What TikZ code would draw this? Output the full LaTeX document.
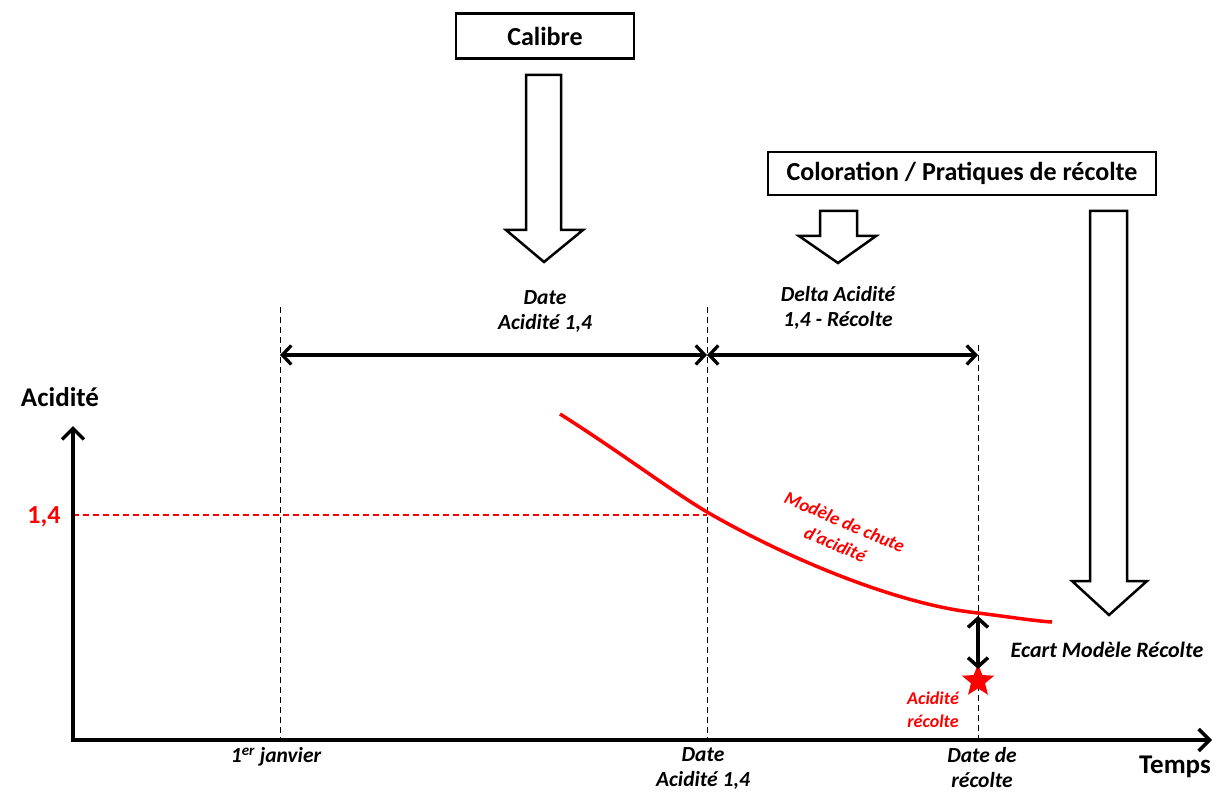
\documentclass[tikz,border=0pt]{standalone}
\usepackage{fontspec}
\setmainfont{Carlito}
\usetikzlibrary{arrows.meta,shapes.geometric}
\definecolor{rd}{RGB}{255,0,0}
\tikzset{
  boxlbl/.style={draw=black,line width=2.5pt,minimum height=45pt,inner sep=0pt,font=\fontsize{26}{30}\selectfont\bfseries},
  blockarrow/.style={draw=black,line width=2.5pt,fill=white,line join=miter},
  vdash/.style={draw=black,line width=1pt,dash pattern=on 6pt off 4pt},
  axis/.style={line width=4pt,-{Straight Barb[length=11pt,width=22pt,line width=3.5pt]}},
  span/.style={line width=3.3pt,{Straight Barb[length=9pt,width=19pt,line width=3.3pt]}-{Straight Barb[length=9pt,width=19pt,line width=3.3pt]}},
  itl/.style={font=\fontsize{21.5}{25}\selectfont\bfseries\itshape,align=center},
  redl/.style={text=rd,font=\fontsize{18}{23}\selectfont\bfseries\itshape,align=center},
}
\begin{document}
\begin{tikzpicture}[x=1pt,y=-1pt]
\useasboundingbox (0,0) rectangle (1222,794);
% boxes
\node[boxlbl,minimum width=178pt] (calibre) at (545,36) {Calibre};
\node[boxlbl,minimum width=388pt,minimum height=43pt] (color) at (962,173.5) {Coloration / Pratiques de récolte};
% block arrows
\draw[blockarrow] (526,75) -- (561,75) -- (561,230) -- (583,230) -- (544,262) -- (506,230) -- (526,230) -- cycle;
\draw[blockarrow] (820,211) -- (857,211) -- (857,236) -- (876,236) -- (838,263) -- (799,236) -- (820,236) -- cycle;
\draw[blockarrow] (1090,211) -- (1127,211) -- (1127,581) -- (1147,581) -- (1109,615) -- (1072,581) -- (1090,581) -- cycle;
% upper labels
\node[itl] (lblDate) at (545,311) {Date\\Acidité 1,4};
\node[itl] (lblDelta) at (838,308) {Delta Acidité\\1,4 - Récolte};
% coordinates
\coordinate (o) at (73,740);
\coordinate (ytop) at (73,426);
\coordinate (xend) at (1212,740);
\coordinate (j1top) at (280,307);
\coordinate (j1bot) at (280,740);
\coordinate (d14top) at (707,307);
\coordinate (d14bot) at (707,740);
\coordinate (drtop) at (978,345);
\coordinate (drbot) at (978,740);
\coordinate (sa) at (280,355);
\coordinate (sb) at (707,355);
\coordinate (sc) at (978,355);
\coordinate (y14) at (73,515);
\coordinate (m14) at (707,515);
% dashed verticals
\draw[vdash] (j1top) -- (j1bot);
\draw[vdash] (d14top) -- (d14bot);
\draw[vdash] (drtop) -- (drbot);
% red dashed
\draw[draw=rd,line width=1.2pt,dash pattern=on 6pt off 4pt] (y14) -- (m14);
% spans
\draw[span] (sa) -- (sb);
\draw[span] (sb) -- (sc);
% axes
\draw[axis] (o) -- (ytop);
\draw[axis] ([xshift=-2pt]o) -- (xend);
% axis labels
\node[font=\fontsize{27}{30}\selectfont\bfseries] (acid) at (60,397) {Acidité};
\node[font=\fontsize{27}{30}\selectfont\bfseries] (temps) at (1175,767) {Temps};
\node[text=rd,font=\fontsize{26}{30}\selectfont\bfseries,anchor=east] (v14) at (64,517) {1,4};
% bottom labels
\node[itl] (jan) at (276,757) {1\textsuperscript{er} janvier};
\node[itl,anchor=north] (bd14) at (703,744) {Date\\Acidité 1,4};
\node[itl,anchor=north] (bdr) at (982,744) {Date de\\récolte};
% curve
\coordinate (c0) at (560,414);
\coordinate (c1) at (707,512);
\coordinate (c2) at (978,613);
\coordinate (c3) at (1052,622);
\draw[draw=rd,line width=3.5pt] (c0) .. controls (620,452) and (670,490) .. (c1)
  .. controls (790,560) and (900,605) .. (c2)
  .. controls (1010,617) and (1035,621) .. (c3);
\node[text=rd,font=\fontsize{18.5}{24}\selectfont\bfseries\itshape,align=center,rotate=-23] (modele) at (840,533) {Modèle de chute\\d'acidité};
% star and gap arrow
\node[star,star points=5,star point ratio=2.3,fill=rd,draw=none,minimum size=34pt,inner sep=0pt] (star) at (978,681) {};
\coordinate (cr) at (978,616);
\coordinate (cs) at (978,669);
\draw[line width=3.5pt,{Straight Barb[length=9pt,width=20pt,line width=3.5pt]}-{Straight Barb[length=9pt,width=20pt,line width=3.5pt]}] (cr) -- (cs);
\node[font=\fontsize{22}{25}\selectfont\bfseries\itshape] (ecart) at (1107,650) {Ecart Modèle Récolte};
\node[redl] (arec) at (933,710) {Acidité\\récolte};
\end{tikzpicture}
\end{document}
